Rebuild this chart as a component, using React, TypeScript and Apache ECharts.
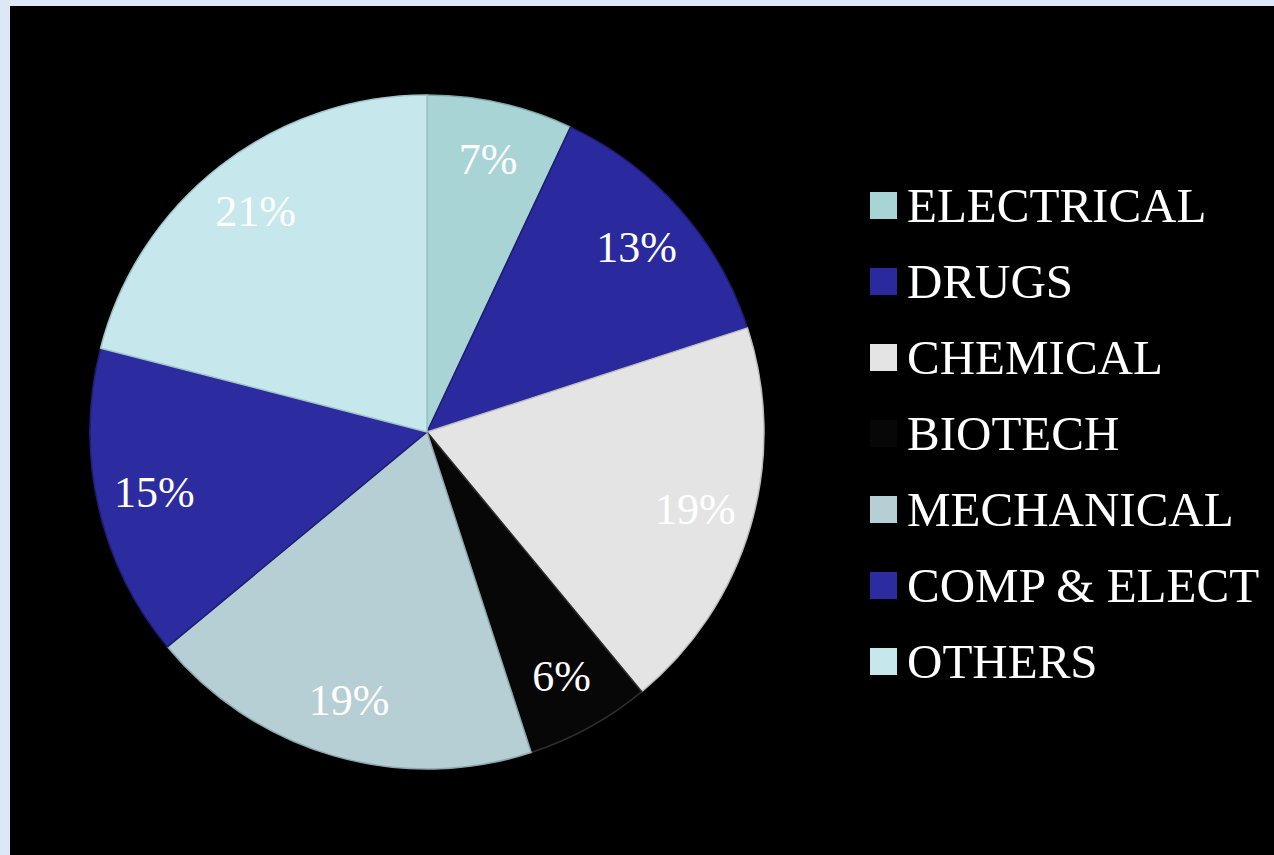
import React, { useEffect, useRef } from "react";
import * as echarts from "echarts";

const categories = ["ELECTRICAL", "DRUGS", "CHEMICAL", "BIOTECH", "MECHANICAL", "COMP & ELECT", "OTHERS"];
const shares = [7, 13, 19, 6, 19, 15, 21];
const sliceColors = ["#a9d4d6", "#2a2a9e", "#e4e4e4", "#070707", "#b6cfd4", "#2c2ca0", "#c6e7eb"];
const edgeColors = ["#7fa9ac", "#1c1c70", "#bdbdbd", "#2e2e2e", "#8ea8ad", "#1d1d72", "#9fc4c9"];

export default function App() {
  const ref = useRef<HTMLDivElement>(null);
  useEffect(() => {
    if (!ref.current) return;
    const chart = echarts.init(ref.current, null, { renderer: "svg" });
    const fontFamily = "'Liberation Serif', 'DejaVu Serif', serif";
    const mainData = categories.map((name, i) => ({
      name,
      value: shares[i],
      itemStyle: {
        color: sliceColors[i],
        borderColor: edgeColors[i],
        borderWidth: 1.5,
      },
    }));
    const labelData = categories.map((name, i) => ({ name, value: shares[i] }));
    chart.setOption({
      animation: false,
      backgroundColor: "#dce8f5",
      graphic: [
        {
          type: "rect",
          z: -10,
          shape: { x: 10, y: 6, width: 1264, height: 849 },
          style: { fill: "#000000" },
          silent: true,
        },
      ],
      legend: {
        orient: "vertical",
        left: 865,
        top: 176,
        itemWidth: 27,
        itemHeight: 27,
        itemGap: 27,
        icon: "rect",
        data: categories,
        itemStyle: { borderWidth: 0 },
        textStyle: {
          color: "#ffffff",
          fontFamily,
          fontSize: 49,
          lineHeight: 48,
          padding: [0, 0, 0, 5],
        },
        selectedMode: false,
      },
      series: [
        {
          type: "pie",
          center: [427, 432],
          radius: [0, 337],
          startAngle: 90,
          clockwise: true,
          label: { show: false },
          labelLine: { show: false },
          silent: true,
          data: mainData,
        },
        {
          type: "pie",
          center: [427, 432],
          radius: [216, 337],
          startAngle: 90,
          clockwise: true,
          silent: true,
          itemStyle: { color: "rgba(0,0,0,0)", borderWidth: 0 },
          label: {
            show: true,
            position: "inside",
            formatter: "{c}%",
            color: "#ffffff",
            fontFamily,
            fontSize: 44,
          },
          labelLine: { show: false },
          data: labelData,
        },
      ],
    });
    return () => chart.dispose();
  }, []);
  return (
    <div
      ref={ref}
      style={{ position: "fixed", left: 0, top: 0, width: 1274, height: 855 }}
    />
  );
}
